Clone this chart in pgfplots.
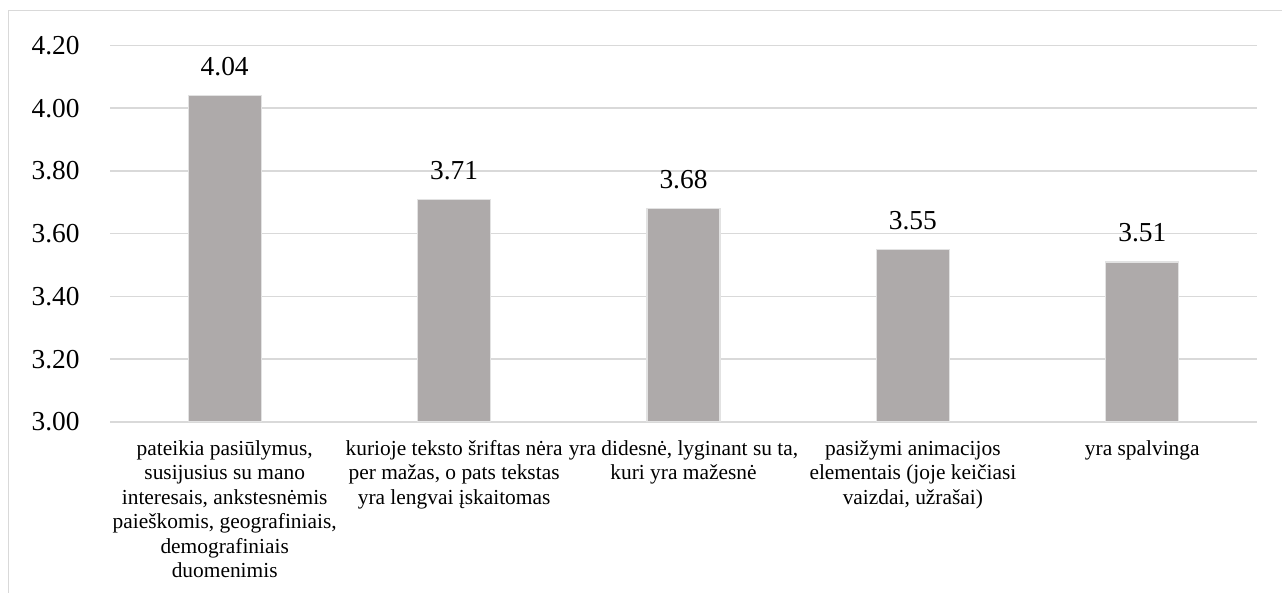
\documentclass[border=0pt]{standalone}
\usepackage{fontspec}
\setmainfont{Liberation Serif}
\usepackage{pgfplots}
\pgfplotsset{compat=1.18}
\definecolor{barfill}{HTML}{AEAAAA}
\definecolor{gridgray}{HTML}{D9D9D9}
\definecolor{baredge}{HTML}{E2E2E2}

\begin{document}
\begin{tikzpicture}
\useasboundingbox (0,0) rectangle (641pt,296.5pt);
% chart frame (left and top edges)
\draw[gridgray, line width=0.75pt] (4.25pt,-2pt) -- (4.25pt,291.15pt) -- (643pt,291.15pt);
\begin{axis}[
  at={(55pt,85.5pt)}, anchor=south west,
  scale only axis, width=573.5pt, height=188.25pt,
  xmin=-0.5, xmax=4.5, ymin=3, ymax=4.2,
  ytick={3.0,3.2,3.4,3.6,3.8,4.0,4.2},
  xtick={0,1,2,3,4},
  xticklabels={
    {pateikia pasiūlymus,\\susijusius su mano\\interesais, ankstesnėmis\\paieškomis, geografiniais,\\demografiniais\\duomenimis},
    {kurioje teksto šriftas nėra\\per mažas, o pats tekstas\\yra lengvai įskaitomas},
    {yra didesnė, lyginant su ta,\\kuri yra mažesnė},
    {pasižymi animacijos\\elementais (joje keičiasi\\vaizdai, užrašai)},
    {yra spalvinga}},
  axis line style={draw=none},
  major tick length=0pt,
  ymajorgrids,
  grid style={gridgray, line width=0.75pt},
  /pgf/number format/assume math mode=true,
  yticklabel style={/pgf/number format/fixed, /pgf/number format/fixed zerofill,
    /pgf/number format/precision=2, anchor=east, inner sep=0pt, xshift=-15pt,
    font=\fontsize{13.7pt}{16pt}\selectfont},
  xticklabel style={align=center, anchor=north, inner sep=0pt, yshift=-9pt,
    font=\fontsize{10.7pt}{12.25pt}\selectfont},
  nodes near coords={\pgfmathprintnumber[fixed,fixed zerofill,precision=2]{\pgfplotspointmeta}},
  every node near coord/.append style={anchor=base, inner sep=0pt, yshift=10pt,
    font=\fontsize{13.7pt}{16pt}\selectfont, text=black},
]
\addplot[ybar, bar width=36.5pt, fill=barfill, draw=baredge, line width=0.6pt]
  coordinates {(0,4.04) (1,3.71) (2,3.68) (3,3.55) (4,3.51)};
\end{axis}
\end{tikzpicture}
\end{document}
